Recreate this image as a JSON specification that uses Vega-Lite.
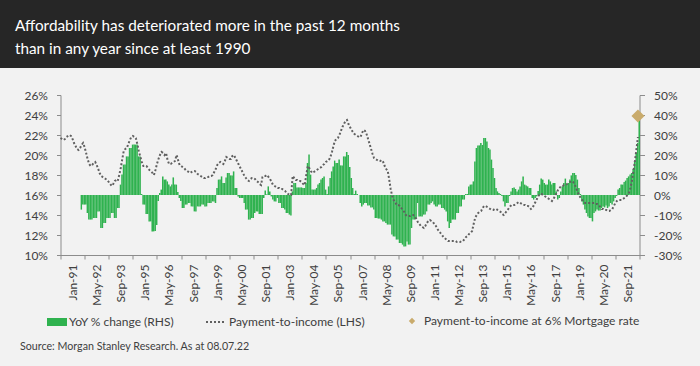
{
  "$schema": "https://vega.github.io/schema/vega-lite/v6.json",
  "background": "#f2f2f2",
  "padding": {"left": 0, "top": 0, "right": 0, "bottom": 16},
  "config": {
    "font": "Lato",
    "view": {"stroke": null},
    "axis": {"grid": false, "labelFont": "Lato", "labelColor": "#404040", "labelFontSize": 12, "domainColor": "#8c8c8c", "tickColor": "#8c8c8c", "title": null},
    "legend": {"title": null, "orient": "none", "padding": 0, "labelFontSize": 12, "labelColor": "#404040", "labelLimit": 400, "labelFont": "Lato"}
  },
  "spacing": 27,
  "bounds": "flush",
  "center": true,
  "title": {
    "text": "Source: Morgan Stanley Research. As at 08.07.22",
    "orient": "bottom", "anchor": "start", "frame": "bounds",
    "fontSize": 10.7, "fontWeight": "normal", "color": "#404040", "offset": 14, "dx": 20
  },
  "vconcat": [
    {
      "width": 700,
      "height": 68,
      "view": {"fill": "#262626", "stroke": null},
      "title": {
        "text": ["Affordability has deteriorated more in the past 12 months", "than in any year since at least 1990"],
        "orient": "top", "anchor": "start", "frame": "group",
        "offset": -57, "dx": 15, "color": "#ffffff", "fontSize": 15.3, "fontWeight": "normal", "lineHeight": 23
      },
      "data": {"values": []},
      "mark": "text",
      "encoding": {}
    },
    {
      "width": 579,
      "height": 160,
      "data": {"values": [
        {"d":"1991-01","p":21.7},{"d":"1991-02","p":21.6},{"d":"1991-03","p":21.5},{"d":"1991-04","p":21.6},{"d":"1991-05","p":21.8},{"d":"1991-06","p":21.9},{"d":"1991-07","p":22.0},{"d":"1991-08","p":21.9},{"d":"1991-09","p":21.6},{"d":"1991-10","p":21.2},{"d":"1991-11","p":20.9},{"d":"1991-12","p":20.6},
        {"d":"1992-01","p":20.5},{"d":"1992-02","p":20.7,"y":-7.3},{"d":"1992-03","p":21.0,"y":-4.8},{"d":"1992-04","p":21.2,"y":-4.8},{"d":"1992-05","p":20.8,"y":-4.8},{"d":"1992-06","p":20.2,"y":-9},{"d":"1992-07","p":19.6,"y":-12.3},{"d":"1992-08","p":19.1,"y":-12.3},{"d":"1992-09","p":18.9,"y":-12.3},{"d":"1992-10","p":19.0,"y":-11.5},{"d":"1992-11","p":19.2,"y":-11.5},{"d":"1992-12","p":19.3,"y":-11.5},
        {"d":"1993-01","p":19.0,"y":-8.2},{"d":"1993-02","p":18.6,"y":-8.2},{"d":"1993-03","p":18.2,"y":-16.5},{"d":"1993-04","p":17.9,"y":-16.5},{"d":"1993-05","p":17.8,"y":-14},{"d":"1993-06","p":17.7,"y":-14},{"d":"1993-07","p":17.6,"y":-11.5},{"d":"1993-08","p":17.5,"y":-11.5},{"d":"1993-09","p":17.3,"y":-11.5},{"d":"1993-10","p":17.1,"y":-9},{"d":"1993-11","p":16.9,"y":-9},{"d":"1993-12","p":17.1,"y":-11.5},
        {"d":"1994-01","p":17.4,"y":-11.5},{"d":"1994-02","p":17.5,"y":-6.5},{"d":"1994-03","p":17.4,"y":-6.5},{"d":"1994-04","p":18.0,"y":5.2},{"d":"1994-05","p":18.7,"y":10.2},{"d":"1994-06","p":19.6,"y":15.2},{"d":"1994-07","p":20.4,"y":15.2},{"d":"1994-08","p":20.6,"y":19.3},{"d":"1994-09","p":20.7,"y":19.3},{"d":"1994-10","p":21.1,"y":23.5},{"d":"1994-11","p":21.5,"y":23.5},{"d":"1994-12","p":21.8,"y":25.2},
        {"d":"1995-01","p":21.9,"y":25.2},{"d":"1995-02","p":21.8,"y":25.2},{"d":"1995-03","p":21.7,"y":25.2},{"d":"1995-04","p":21.1,"y":19.3},{"d":"1995-05","p":20.4,"y":19.3},{"d":"1995-06","p":19.8,"y":0.5},{"d":"1995-07","p":19.3,"y":-4.8},{"d":"1995-08","p":18.9,"y":-4.8},{"d":"1995-09","p":18.9,"y":-9.5},{"d":"1995-10","p":18.9,"y":-9.5},{"d":"1995-11","p":18.7,"y":-13.2},{"d":"1995-12","p":18.5,"y":-13.2},
        {"d":"1996-01","p":18.4,"y":-18.2},{"d":"1996-02","p":18.2,"y":-18.2},{"d":"1996-03","p":18.0,"y":-18},{"d":"1996-04","p":18.5,"y":-15},{"d":"1996-05","p":19.1,"y":-3},{"d":"1996-06","p":19.6,"y":1},{"d":"1996-07","p":20.0,"y":2.7},{"d":"1996-08","p":20.3,"y":9.3},{"d":"1996-09","p":20.2,"y":7.7},{"d":"1996-10","p":20.0,"y":7.7},{"d":"1996-11","p":20.2,"y":6.8},{"d":"1996-12","p":19.5,"y":5.2},
        {"d":"1997-01","p":19.1,"y":4.3},{"d":"1997-02","p":19.1,"y":5.2},{"d":"1997-03","p":19.2,"y":8.8},{"d":"1997-04","p":19.3,"y":5.2},{"d":"1997-05","p":19.4,"y":5.2},{"d":"1997-06","p":20.0,"y":1.5},{"d":"1997-07","p":19.5,"y":-1.5},{"d":"1997-08","p":19.0,"y":-3},{"d":"1997-09","p":18.9,"y":-6.5},{"d":"1997-10","p":18.8,"y":-6.5},{"d":"1997-11","p":18.7,"y":-4.8},{"d":"1997-12","p":18.5,"y":-4.8},
        {"d":"1998-01","p":18.4,"y":-4},{"d":"1998-02","p":18.3,"y":-4},{"d":"1998-03","p":18.2,"y":-5.7},{"d":"1998-04","p":18.3,"y":-5.7},{"d":"1998-05","p":18.4,"y":-8.2},{"d":"1998-06","p":18.4,"y":-8.2},{"d":"1998-07","p":18.3,"y":-5.7},{"d":"1998-08","p":18.1,"y":-5.7},{"d":"1998-09","p":18.0,"y":-5.7},{"d":"1998-10","p":17.9,"y":-4.8},{"d":"1998-11","p":17.8,"y":-4.8},{"d":"1998-12","p":17.7,"y":-5.7},
        {"d":"1999-01","p":17.7,"y":-5.7},{"d":"1999-02","p":17.8,"y":-4},{"d":"1999-03","p":17.8,"y":-4},{"d":"1999-04","p":17.9,"y":-4},{"d":"1999-05","p":17.9,"y":-3.2},{"d":"1999-06","p":18.0,"y":-3.2},{"d":"1999-07","p":18.3,"y":-4},{"d":"1999-08","p":18.6,"y":3.5},{"d":"1999-09","p":19.0,"y":7.7},{"d":"1999-10","p":19.2,"y":7.7},{"d":"1999-11","p":19.3,"y":9.3},{"d":"1999-12","p":19.2,"y":6},
        {"d":"2000-01","p":19.1,"y":6},{"d":"2000-02","p":19.4,"y":8.8},{"d":"2000-03","p":19.8,"y":11},{"d":"2000-04","p":19.7,"y":11},{"d":"2000-05","p":19.6,"y":9.8},{"d":"2000-06","p":19.6,"y":9.8},{"d":"2000-07","p":19.9,"y":11.8},{"d":"2000-08","p":20.0,"y":3.5},{"d":"2000-09","p":19.7,"y":3.5},{"d":"2000-10","p":19.4,"y":-0.7},{"d":"2000-11","p":19.1,"y":-1.5},{"d":"2000-12","p":18.8,"y":-1.5},
        {"d":"2001-01","p":18.5,"y":-1.5},{"d":"2001-02","p":18.2,"y":-4},{"d":"2001-03","p":17.9,"y":-7.3},{"d":"2001-04","p":17.7,"y":-7.3},{"d":"2001-05","p":17.5,"y":-12.3},{"d":"2001-06","p":17.4,"y":-12.3},{"d":"2001-07","p":17.6,"y":-11.5},{"d":"2001-08","p":17.7,"y":-11.5},{"d":"2001-09","p":17.7,"y":-9},{"d":"2001-10","p":17.6,"y":-8.2},{"d":"2001-11","p":17.4,"y":-8.2},{"d":"2001-12","p":17.3,"y":-9.5},
        {"d":"2002-01","p":17.1,"y":-9.5},{"d":"2002-02","p":17.0,"y":-9.5},{"d":"2002-03","p":17.8,"y":-1.5},{"d":"2002-04","p":17.9,"y":2.2},{"d":"2002-05","p":17.9,"y":0.3},{"d":"2002-06","p":18.0,"y":4.3},{"d":"2002-07","p":17.8,"y":1.8},{"d":"2002-08","p":17.6,"y":-0.7},{"d":"2002-09","p":17.3,"y":-2.3},{"d":"2002-10","p":17.0,"y":-3.2},{"d":"2002-11","p":16.9,"y":-3.2},{"d":"2002-12","p":16.8,"y":-1.5},
        {"d":"2003-01","p":16.7,"y":-4},{"d":"2003-02","p":16.7,"y":-4},{"d":"2003-03","p":16.6,"y":-6.5},{"d":"2003-04","p":16.6,"y":-6.5},{"d":"2003-05","p":16.5,"y":-7.3},{"d":"2003-06","p":16.4,"y":-9},{"d":"2003-07","p":16.2,"y":-9},{"d":"2003-08","p":16.1,"y":-9.8},{"d":"2003-09","p":16.0,"y":-10.3},{"d":"2003-10","p":16.0,"y":1.8},{"d":"2003-11","p":17.9,"y":6},{"d":"2003-12","p":17.7,"y":6},
        {"d":"2004-01","p":17.5,"y":3.8},{"d":"2004-02","p":17.5,"y":3.8},{"d":"2004-03","p":17.4,"y":3.8},{"d":"2004-04","p":17.4,"y":3.8},{"d":"2004-05","p":17.3,"y":3.5},{"d":"2004-06","p":17.1,"y":3.5},{"d":"2004-07","p":17.0,"y":6},{"d":"2004-08","p":18.0,"y":16},{"d":"2004-09","p":18.9,"y":20.2},{"d":"2004-10","p":18.7,"y":10.2},{"d":"2004-11","p":18.4,"y":2.7},{"d":"2004-12","p":18.2,"y":2.7},
        {"d":"2005-01","p":18.3,"y":2.7},{"d":"2005-02","p":18.4,"y":3.5},{"d":"2005-03","p":18.5,"y":5.2},{"d":"2005-04","p":18.6,"y":6},{"d":"2005-05","p":18.7,"y":7.7},{"d":"2005-06","p":18.8,"y":8.5},{"d":"2005-07","p":19.0,"y":9.3},{"d":"2005-08","p":19.1,"y":2.7},{"d":"2005-09","p":19.3,"y":0.5},{"d":"2005-10","p":19.4,"y":4.3},{"d":"2005-11","p":19.5,"y":8.5},{"d":"2005-12","p":19.8,"y":11.8},
        {"d":"2006-01","p":20.3,"y":14.3},{"d":"2006-02","p":20.9,"y":17.2},{"d":"2006-03","p":21.4,"y":16},{"d":"2006-04","p":21.6,"y":16},{"d":"2006-05","p":21.7,"y":17.7},{"d":"2006-06","p":22.0,"y":14.8},{"d":"2006-07","p":22.4,"y":14.8},{"d":"2006-08","p":22.8,"y":19.3},{"d":"2006-09","p":23.1,"y":19.3},{"d":"2006-10","p":23.4,"y":21.5},{"d":"2006-11","p":23.5,"y":20},{"d":"2006-12","p":23.1,"y":14},
        {"d":"2007-01","p":22.8,"y":8.5},{"d":"2007-02","p":22.5,"y":3.5},{"d":"2007-03","p":22.3,"y":0.5},{"d":"2007-04","p":22.1,"y":2.2},{"d":"2007-05","p":22.0,"y":0.5},{"d":"2007-06","p":21.9,"y":0},{"d":"2007-07","p":21.8,"y":-4},{"d":"2007-08","p":21.8,"y":-5.7},{"d":"2007-09","p":22.2,"y":-4.8},{"d":"2007-10","p":22.5,"y":-4},{"d":"2007-11","p":22.4,"y":-4},{"d":"2007-12","p":22.1,"y":-5.2},
        {"d":"2008-01","p":21.6,"y":-5.2},{"d":"2008-02","p":21.1,"y":-6.2},{"d":"2008-03","p":20.6,"y":-6.2},{"d":"2008-04","p":20.1,"y":-7.3},{"d":"2008-05","p":19.7,"y":-11.5},{"d":"2008-06","p":19.6,"y":-11.5},{"d":"2008-07","p":19.5,"y":-11.8},{"d":"2008-08","p":19.4,"y":-11.8},{"d":"2008-09","p":19.4,"y":-12.3},{"d":"2008-10","p":19.5,"y":-13.2},{"d":"2008-11","p":19.3,"y":-13.2},{"d":"2008-12","p":18.9,"y":-14},
        {"d":"2009-01","p":18.6,"y":-14.8},{"d":"2009-02","p":18.4,"y":-14.8},{"d":"2009-03","p":17.6,"y":-14.8},{"d":"2009-04","p":16.6,"y":-19.8},{"d":"2009-05","p":15.9,"y":-20.7},{"d":"2009-06","p":15.5,"y":-20.7},{"d":"2009-07","p":15.3,"y":-22.3},{"d":"2009-08","p":15.0,"y":-22.3},{"d":"2009-09","p":15.0,"y":-24},{"d":"2009-10","p":14.9,"y":-24},{"d":"2009-11","p":14.7,"y":-24.8},{"d":"2009-12","p":14.5,"y":-25.7},
        {"d":"2010-01","p":14.3,"y":-25.7},{"d":"2010-02","p":14.0,"y":-23.2},{"d":"2010-03","p":13.9,"y":-24.8},{"d":"2010-04","p":13.9,"y":-24.8},{"d":"2010-05","p":13.9,"y":-16.5},{"d":"2010-06","p":14.0,"y":-12.3},{"d":"2010-07","p":14.0,"y":-12.3},{"d":"2010-08","p":13.8,"y":-11.5},{"d":"2010-09","p":13.6,"y":-4},{"d":"2010-10","p":13.3,"y":-10.7},{"d":"2010-11","p":13.1,"y":-10.7},{"d":"2010-12","p":12.9,"y":-10.7},
        {"d":"2011-01","p":12.8,"y":-9.8},{"d":"2011-02","p":12.7,"y":-9.8},{"d":"2011-03","p":12.9,"y":-8.2},{"d":"2011-04","p":13.2,"y":-4.8},{"d":"2011-05","p":13.4,"y":-4.8},{"d":"2011-06","p":13.5,"y":-4},{"d":"2011-07","p":13.4,"y":-3.2},{"d":"2011-08","p":13.3,"y":-4.8},{"d":"2011-09","p":13.1,"y":-5.7},{"d":"2011-10","p":12.9,"y":-5.7},{"d":"2011-11","p":12.6,"y":-4.8},{"d":"2011-12","p":12.4,"y":-4.8},
        {"d":"2012-01","p":12.2,"y":-6.5},{"d":"2012-02","p":12.0,"y":-6.5},{"d":"2012-03","p":11.8,"y":-7.3},{"d":"2012-04","p":11.7,"y":-8.2},{"d":"2012-05","p":11.5,"y":-13.2},{"d":"2012-06","p":11.4,"y":-16.5},{"d":"2012-07","p":11.4,"y":-14},{"d":"2012-08","p":11.4,"y":-12.3},{"d":"2012-09","p":11.4,"y":-12.3},{"d":"2012-10","p":11.4,"y":-12.3},{"d":"2012-11","p":11.4,"y":-9},{"d":"2012-12","p":11.3,"y":-9},
        {"d":"2013-01","p":11.3,"y":-5.7},{"d":"2013-02","p":11.3,"y":-5.7},{"d":"2013-03","p":11.4,"y":-2.3},{"d":"2013-04","p":11.4,"y":-2.3},{"d":"2013-05","p":11.6,"y":0.5},{"d":"2013-06","p":11.8,"y":0.5},{"d":"2013-07","p":11.9,"y":4.3},{"d":"2013-08","p":12.1,"y":5.2},{"d":"2013-09","p":12.2,"y":5.2},{"d":"2013-10","p":12.4,"y":6.8},{"d":"2013-11","p":13.1,"y":16.8},{"d":"2013-12","p":13.7,"y":23.5},
        {"d":"2014-01","p":14.0,"y":24.8},{"d":"2014-02","p":14.2,"y":24.8},{"d":"2014-03","p":14.3,"y":26},{"d":"2014-04","p":14.4,"y":25},{"d":"2014-05","p":14.7,"y":28.5},{"d":"2014-06","p":14.9,"y":28.5},{"d":"2014-07","p":14.9,"y":26.8},{"d":"2014-08","p":14.8,"y":23.5},{"d":"2014-09","p":14.7,"y":22.7},{"d":"2014-10","p":14.6,"y":17.7},{"d":"2014-11","p":14.5,"y":13.5},{"d":"2014-12","p":14.5,"y":8.5},
        {"d":"2015-01","p":14.6,"y":3.5},{"d":"2015-02","p":14.6,"y":1.8},{"d":"2015-03","p":14.5,"y":1},{"d":"2015-04","p":14.4,"y":0.5},{"d":"2015-05","p":14.3,"y":-0.5},{"d":"2015-06","p":14.1,"y":-3.2},{"d":"2015-07","p":14.0,"y":-5.7},{"d":"2015-08","p":14.2,"y":-4},{"d":"2015-09","p":14.4,"y":-4},{"d":"2015-10","p":14.6,"y":-0.5},{"d":"2015-11","p":14.8,"y":1.8},{"d":"2015-12","p":15.0,"y":3.5},
        {"d":"2016-01","p":15.0,"y":3.8},{"d":"2016-02","p":15.0,"y":3},{"d":"2016-03","p":15.1,"y":1.8},{"d":"2016-04","p":15.2,"y":2.7},{"d":"2016-05","p":15.3,"y":4.3},{"d":"2016-06","p":15.2,"y":6.8},{"d":"2016-07","p":15.1,"y":9.3},{"d":"2016-08","p":15.0,"y":5.2},{"d":"2016-09","p":15.0,"y":4.7},{"d":"2016-10","p":14.9,"y":4.3},{"d":"2016-11","p":14.9,"y":3.5},{"d":"2016-12","p":14.8,"y":3.5},
        {"d":"2017-01","p":14.6,"y":-1.5},{"d":"2017-02","p":14.7,"y":-2.3},{"d":"2017-03","p":15.0,"y":-1.5},{"d":"2017-04","p":15.3,"y":-0.7},{"d":"2017-05","p":15.6,"y":2},{"d":"2017-06","p":15.9,"y":5.2},{"d":"2017-07","p":16.1,"y":8.2},{"d":"2017-08","p":16.1,"y":7.7},{"d":"2017-09","p":16.0,"y":6},{"d":"2017-10","p":15.9,"y":5.2},{"d":"2017-11","p":15.8,"y":5.2},{"d":"2017-12","p":15.7,"y":7.7},
        {"d":"2018-01","p":15.6,"y":6.8},{"d":"2018-02","p":15.5,"y":5.2},{"d":"2018-03","p":15.4,"y":6},{"d":"2018-04","p":15.6,"y":6},{"d":"2018-05","p":15.9,"y":1.8},{"d":"2018-06","p":16.2,"y":-2.3},{"d":"2018-07","p":16.5,"y":-1.5},{"d":"2018-08","p":16.7,"y":1.8},{"d":"2018-09","p":16.9,"y":4.3},{"d":"2018-10","p":16.9,"y":6},{"d":"2018-11","p":17.0,"y":8.2},{"d":"2018-12","p":17.0,"y":5.2},
        {"d":"2019-01","p":17.1,"y":6},{"d":"2019-02","p":17.2,"y":7.7},{"d":"2019-03","p":17.3,"y":9.8},{"d":"2019-04","p":17.4,"y":11},{"d":"2019-05","p":17.3,"y":11},{"d":"2019-06","p":17.1,"y":10},{"d":"2019-07","p":16.7,"y":7.7},{"d":"2019-08","p":16.3,"y":3.5},{"d":"2019-09","p":16.0,"y":0.5},{"d":"2019-10","p":15.7,"y":-3.2},{"d":"2019-11","p":15.5,"y":-4.8},{"d":"2019-12","p":15.3,"y":-7.3},
        {"d":"2020-01","p":15.2,"y":-9},{"d":"2020-02","p":15.2,"y":-10.7},{"d":"2020-03","p":15.2,"y":-11.5},{"d":"2020-04","p":15.2,"y":-11.5},{"d":"2020-05","p":15.2,"y":-13.2},{"d":"2020-06","p":15.2,"y":-9},{"d":"2020-07","p":15.2,"y":-8.2},{"d":"2020-08","p":15.1,"y":-7.3},{"d":"2020-09","p":15.1,"y":-7.8},{"d":"2020-10","p":15.0,"y":-7.8},{"d":"2020-11","p":14.8,"y":-6.5},{"d":"2020-12","p":14.6,"y":-5.7},
        {"d":"2021-01","p":14.6,"y":-6.2},{"d":"2021-02","p":14.5,"y":-5.2},{"d":"2021-03","p":14.5,"y":-6.5},{"d":"2021-04","p":14.4,"y":-5.7},{"d":"2021-05","p":14.4,"y":-4},{"d":"2021-06","p":14.5,"y":-4.8},{"d":"2021-07","p":14.6,"y":-3.2},{"d":"2021-08","p":14.9,"y":-1.5},{"d":"2021-09","p":15.2,"y":-0.5},{"d":"2021-10","p":15.4,"y":2.7},{"d":"2021-11","p":15.5,"y":3.5},{"d":"2021-12","p":15.5,"y":5.2},
        {"d":"2022-01","p":15.5,"y":5.2},{"d":"2022-02","p":15.6,"y":6.5},{"d":"2022-03","p":15.7,"y":7.2},{"d":"2022-04","p":15.8,"y":8.5},{"d":"2022-05","p":16.0,"y":9.3},{"d":"2022-06","p":16.2,"y":10.2},{"d":"2022-07","p":16.7,"y":11},{"d":"2022-08","p":17.4,"y":13},{"d":"2022-09","p":18.4,"y":17},{"d":"2022-10","p":19.4,"y":21},{"d":"2022-11","p":20.6,"y":26},{"d":"2022-12","p":21.8,"y":37.5,"m":23.9}
      ]},
      "encoding": {
        "x": {
          "field": "d", "timeUnit": "utcyearmonth", "type": "temporal",
          "scale": {"domain": [{"year": 1991, "month": 1, "date": 1, "utc": true}, {"year": 2023, "month": 1, "date": 1, "utc": true}]},
          "axis": {
            "values": [
              {"year": 1991, "month": 1, "date": 1, "utc": true}, {"year": 1992, "month": 5, "date": 1, "utc": true}, {"year": 1993, "month": 9, "date": 1, "utc": true},
              {"year": 1995, "month": 1, "date": 1, "utc": true}, {"year": 1996, "month": 5, "date": 1, "utc": true}, {"year": 1997, "month": 9, "date": 1, "utc": true},
              {"year": 1999, "month": 1, "date": 1, "utc": true}, {"year": 2000, "month": 5, "date": 1, "utc": true}, {"year": 2001, "month": 9, "date": 1, "utc": true},
              {"year": 2003, "month": 1, "date": 1, "utc": true}, {"year": 2004, "month": 5, "date": 1, "utc": true}, {"year": 2005, "month": 9, "date": 1, "utc": true},
              {"year": 2007, "month": 1, "date": 1, "utc": true}, {"year": 2008, "month": 5, "date": 1, "utc": true}, {"year": 2009, "month": 9, "date": 1, "utc": true},
              {"year": 2011, "month": 1, "date": 1, "utc": true}, {"year": 2012, "month": 5, "date": 1, "utc": true}, {"year": 2013, "month": 9, "date": 1, "utc": true},
              {"year": 2015, "month": 1, "date": 1, "utc": true}, {"year": 2016, "month": 5, "date": 1, "utc": true}, {"year": 2017, "month": 9, "date": 1, "utc": true},
              {"year": 2019, "month": 1, "date": 1, "utc": true}, {"year": 2020, "month": 5, "date": 1, "utc": true}, {"year": 2021, "month": 9, "date": 1, "utc": true},
              {"year": 2023, "month": 1, "date": 1, "utc": true}
            ],
            "labelExpr": "utcyear(datum.value) > 2022 ? '' : utcFormat(datum.value, '%b-%y')",
            "labelAngle": -90, "labelOffset": 12, "tickSize": 4, "labelPadding": 5,
            "labelOverlap": false, "labelFlush": false, "labelBound": false
          }
        }
      },
      "layer": [
        {
          "mark": {"type": "bar", "opacity": 1, "binSpacing": 0},
          "encoding": {
            "y": {
              "field": "y", "type": "quantitative",
              "scale": {"domain": [-30, 50], "nice": false, "zero": false},
              "axis": {"orient": "right", "values": [-30, -20, -10, 0, 10, 20, 30, 40, 50], "labelExpr": "datum.value + '%'", "tickSize": 5, "labelPadding": 9}
            },
            "fill": {
              "datum": "YoY % change (RHS)", "type": "nominal",
              "scale": {"range": ["#2fb24f"]},
              "legend": {"legendX": 47, "legendY": 312, "symbolType": "M-1,-0.4H1V0.4H-1Z", "symbolSize": 400, "symbolStrokeWidth": 0, "labelOffset": 2}
            }
          }
        },
        {
          "mark": {"type": "line", "strokeDash": [2, 2], "strokeWidth": 2},
          "encoding": {
            "y": {
              "field": "p", "type": "quantitative",
              "scale": {"domain": [10, 26], "nice": false, "zero": false},
              "axis": {"orient": "left", "values": [10, 12, 14, 16, 18, 20, 22, 24, 26], "labelExpr": "datum.value + '%'", "tickSize": 4, "labelPadding": 9}
            },
            "stroke": {
              "datum": "Payment-to-income (LHS)", "type": "nominal",
              "scale": {"range": ["#606060"]},
              "legend": {"legendX": 205, "legendY": 311, "symbolType": "stroke", "symbolSize": 400, "symbolStrokeWidth": 2, "symbolDash": [2, 2], "labelOffset": 2}
            }
          }
        },
        {
          "mark": {"type": "point", "filled": true, "size": 170, "opacity": 1, "color": "#c9ab6c"},
          "encoding": {
            "y": {"field": "m", "type": "quantitative", "scale": {"domain": [10, 26], "nice": false, "zero": false}, "axis": null},
            "shape": {
              "datum": "Payment-to-income at 6% Mortgage rate", "type": "nominal",
              "scale": {"range": ["diamond"]},
              "legend": {"legendX": 406, "legendY": 315, "symbolSize": 40, "symbolFillColor": "#c9ab6c", "symbolStrokeColor": "#c9ab6c", "symbolStrokeWidth": 0, "labelOffset": 6}
            }
          }
        }
      ],
      "resolve": {"scale": {"y": "independent"}}
    }
  ]
}
